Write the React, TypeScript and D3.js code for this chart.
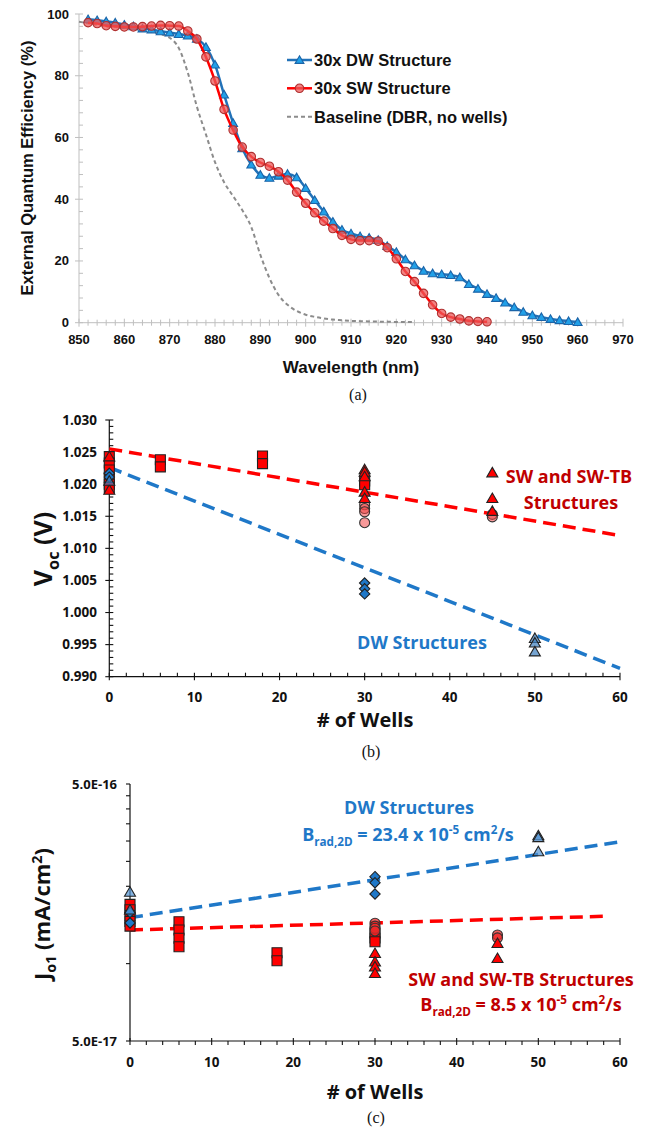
import React, { useEffect, useRef } from 'react';
import * as d3 from 'd3';

const W = 654;
const H = 1129;

// ---- (a) EQE spectra ----
const dwWavelength = [852, 854, 856, 858, 860, 862, 864, 866, 868, 870, 872, 874, 876, 878, 880, 882, 884, 886, 888, 890,
  892, 894, 896, 898, 900, 902, 904, 906, 908, 910, 912, 914, 916, 918, 920, 922, 924, 926, 928, 930,
  932, 934, 936, 938, 940, 942, 944, 946, 948, 950, 952, 954, 956, 958, 960];
const dwEqe = [98.3, 98.0, 97.6, 97.2, 96.5, 96.0, 95.3, 95.0, 94.4, 94.0, 93.5, 93.0, 92.0, 89.3, 83.6, 73.9, 64.7, 56.5, 51.2, 47.9,
  46.9, 47.6, 48.2, 47.1, 43.6, 39.7, 36.0, 32.7, 30.1, 28.9, 28.0, 27.5, 26.8, 24.8, 22.9, 20.5, 18.6, 16.8, 16.0, 15.7,
  15.4, 14.7, 12.5, 11.0, 9.3, 8.0, 6.5, 5.0, 3.5, 2.4, 1.8, 1.2, 0.8, 0.5, 0.2];
const swWavelength = [852, 854, 856, 858, 860, 862, 864, 866, 868, 870, 872, 874, 876, 878, 880, 882, 884, 886, 888, 890,
  892, 894, 896, 898, 900, 902, 904, 906, 908, 910, 912, 914, 916, 918, 920, 922, 924, 926, 928, 930,
  932, 934, 936, 938, 940];
const swEqe = [97.2, 96.9, 96.2, 96.0, 95.8, 95.8, 95.9, 96.1, 96.3, 96.2, 96.1, 94.5, 91.9, 86.1, 78.3, 69.1, 62.4, 56.9, 53.8, 51.9,
  50.7, 48.9, 46.2, 42.3, 38.7, 35.6, 32.9, 30.5, 28.3, 27.0, 26.6, 26.6, 26.4, 24.3, 20.7, 16.6, 13.3, 9.5, 5.8, 3.0,
  1.8, 1.2, 0.6, 0.4, 0.3];
const baseWavelength = [850, 852, 854, 856, 858, 860, 862, 864, 866, 868, 870, 872, 874, 876, 878, 880, 882, 884, 886, 888,
  890, 892, 894, 896, 898, 900, 902, 904, 906, 908, 910, 912, 914, 916, 918, 920, 922, 924];
const baseEqe = [97.5, 97.0, 96.5, 96.0, 95.8, 95.5, 95.2, 94.8, 94.2, 93.5, 92.3, 89.0, 81.0, 70.0, 61.0, 52.0, 45.5, 41.0, 36.5, 31.0,
  22.0, 14.5, 9.0, 5.8, 3.8, 2.6, 1.9, 1.4, 1.0, 0.8, 0.6, 0.5, 0.4, 0.35, 0.3, 0.25, 0.2, 0.2];
const legendLabels = ['30x DW Structure', '30x SW Structure', 'Baseline (DBR, no wells)'];
const eqeXTicks = [850, 860, 870, 880, 890, 900, 910, 920, 930, 940, 950, 960, 970];
const eqeYTicks = [0, 20, 40, 60, 80, 100];

// ---- (b) Voc vs wells ----
const vocSwSquares: [number, number][] = [[0, 1.0243], [0, 1.0233], [0, 1.0222], [0, 1.0210], [0, 1.0200], [0, 1.0195],
  [6, 1.0238], [6, 1.0227], [18, 1.0244], [18, 1.0232], [30, 1.0205], [30, 1.0199]];
const vocSwCircles: [number, number][] = [[30, 1.0168], [30, 1.0162], [30, 1.0157], [30, 1.0140], [45, 1.0153], [45, 1.0149]];
const vocSwTriangles: [number, number][] = [[0, 1.0243], [0, 1.0191], [30, 1.0223], [30, 1.0219], [30, 1.0212], [30, 1.0188],
  [30, 1.0178], [45, 1.0218], [45, 1.0178], [45, 1.0158]];
const vocDwDiamonds: [number, number][] = [[0, 1.0217], [0, 1.0211], [30, 1.0046], [30, 1.0037], [30, 1.0029]];
const vocDwTriangles: [number, number][] = [[0, 1.0205], [50, 0.9960], [50, 0.9953], [50, 0.9939]];
const vocSwFit: [number, number][] = [[0, 1.0255], [60, 1.0120]];
const vocDwFit: [number, number][] = [[0, 1.0226], [60, 0.9913]];
const vocYTicks = [0.990, 0.995, 1.000, 1.005, 1.010, 1.015, 1.020, 1.025, 1.030];
const wellTicks = [0, 10, 20, 30, 40, 50, 60];

// ---- (c) Jo1 vs wells ----
const jSwSquares: [number, number][] = [[0, 1.70e-16], [0, 1.62e-16], [0, 1.54e-16], [0, 1.46e-16], [0, 1.40e-16],
  [6, 1.456e-16], [6, 1.352e-16], [6, 1.255e-16], [6, 1.164e-16], [18, 1.103e-16], [18, 1.026e-16],
  [30, 1.315e-16], [30, 1.258e-16], [30, 1.217e-16]];
const jSwCircles: [number, number][] = [[30, 1.436e-16], [30, 1.40e-16], [30, 1.373e-16], [30, 1.34e-16], [45, 1.293e-16], [45, 1.26e-16]];
const jSwTriangles: [number, number][] = [[30, 1.097e-16], [30, 1.017e-16], [30, 9.73e-17], [30, 9.17e-17], [45, 1.2e-16], [45, 1.049e-16]];
const jDwDiamonds: [number, number][] = [[0, 1.58e-16], [0, 1.44e-16], [30, 2.18e-16], [30, 2.065e-16], [30, 1.866e-16]];
const jDwTriangles: [number, number][] = [[0, 1.90e-16], [0, 1.62e-16], [50, 3.15e-16], [50, 3.10e-16], [50, 2.73e-16]];
const jDwFit: [number, number][] = [[0, 1.51e-16], [60, 2.98e-16]];
const jSwFit: [number, number][] = [[0, 1.352e-16], [58.5, 1.53e-16]];
const jYTicks = [5e-17, 5e-16];
const jYMinor = [1e-16, 1.5e-16, 2e-16, 2.5e-16, 3e-16, 3.5e-16, 4e-16, 4.5e-16];

const RED = '#ff0000';
const DARKRED = '#c00000';
const BLUE = '#1f78c8';
const ARIAL = '"Liberation Sans", Arial, sans-serif';
const SANS = '"Open Sans", "Noto Sans", sans-serif';

type Part = { t: string; k?: 'sub' | 'sup' };

function richText(g: any, x: number, y: number, parts: Part[], size: number, color: string, anchor = 'middle', transform?: string) {
  const text = g.append('text')
    .attr('x', x).attr('y', y)
    .attr('text-anchor', anchor)
    .attr('font-family', SANS)
    .attr('font-weight', 'bold')
    .attr('font-size', size)
    .attr('fill', color);
  if (transform) text.attr('transform', transform);
  let shift = 0;
  parts.forEach(p => {
    const target = p.k === 'sub' ? size * 0.28 : p.k === 'sup' ? -size * 0.38 : 0;
    text.append('tspan')
      .attr('dy', target - shift)
      .attr('font-size', p.k ? size * 0.65 : size)
      .text(p.t);
    shift = target;
  });
}

function markerPath(shape: string, size: number): string {
  const s = size / 2;
  if (shape === 'square') return `M${-s},${-s}H${s}V${s}H${-s}Z`;
  if (shape === 'triangle') return `M0,${-s * 1.05}L${s * 1.1},${s * 0.85}L${-s * 1.1},${s * 0.85}Z`;
  if (shape === 'diamond') return `M0,${-s * 1.15}L${s * 1.15},0L0,${s * 1.15}L${-s * 1.15},0Z`;
  return `M${s},0A${s},${s} 0 1,1 ${-s},0A${s},${s} 0 1,1 ${s},0Z`;
}

function drawMarkers(g: any, data: [number, number][], x: any, y: any, shape: string, size: number, fill: string, stroke: string) {
  g.append('g').selectAll('path')
    .data(data)
    .enter()
    .append('path')
    .attr('d', markerPath(shape, size))
    .attr('transform', (d: [number, number]) => `translate(${x(d[0])},${y(d[1])})`)
    .attr('fill', fill)
    .attr('stroke', stroke)
    .attr('stroke-width', 1.1);
}

function drawFit(g: any, data: [number, number][], x: any, y: any, color: string) {
  const line = d3.line<[number, number]>().x(d => x(d[0])).y(d => y(d[1]));
  g.append('path')
    .attr('d', line(data))
    .attr('fill', 'none')
    .attr('stroke', color)
    .attr('stroke-width', 3.5)
    .attr('stroke-dasharray', '13,7');
}

function drawEqe(svg: any) {
  const x = d3.scaleLinear().domain([850, 970]).range([79, 623]);
  const y = d3.scaleLinear().domain([0, 100]).range([322.7, 14]);
  const g = svg.append('g');
  const axisColor = '#bfbfbf';

  g.append('line').attr('x1', x(850)).attr('x2', x(970)).attr('y1', y(0)).attr('y2', y(0)).attr('stroke', axisColor);
  g.append('line').attr('x1', x(850)).attr('x2', x(850)).attr('y1', y(0)).attr('y2', y(100)).attr('stroke', axisColor);

  d3.range(850, 971, 2).forEach(v => {
    const major = v % 10 === 0;
    g.append('line').attr('x1', x(v)).attr('x2', x(v))
      .attr('y1', y(0) - (major ? 4 : 3)).attr('y2', y(0) + (major ? 4 : 3))
      .attr('stroke', axisColor);
  });
  d3.range(0, 101, 4).forEach(v => {
    const major = v % 20 === 0;
    g.append('line').attr('y1', y(v)).attr('y2', y(v))
      .attr('x1', x(850) - (major ? 4 : 0)).attr('x2', x(850) + 4)
      .attr('stroke', axisColor);
  });

  g.selectAll('.xt').data(eqeXTicks).enter().append('text')
    .attr('x', (d: number) => x(d)).attr('y', 344)
    .attr('text-anchor', 'middle').attr('font-family', ARIAL).attr('font-weight', 'bold')
    .attr('font-size', 13).attr('fill', '#111').text((d: number) => d);
  g.selectAll('.yt').data(eqeYTicks).enter().append('text')
    .attr('x', 69).attr('y', (d: number) => y(d) + 4.5)
    .attr('text-anchor', 'end').attr('font-family', ARIAL).attr('font-weight', 'bold')
    .attr('font-size', 13).attr('fill', '#111').text((d: number) => d);

  g.append('text').attr('x', 351).attr('y', 373)
    .attr('text-anchor', 'middle').attr('font-family', ARIAL).attr('font-weight', 'bold')
    .attr('font-size', 17).attr('fill', '#111').text('Wavelength (nm)');
  g.append('text').attr('transform', 'translate(33,168) rotate(-90)')
    .attr('text-anchor', 'middle').attr('font-family', ARIAL).attr('font-weight', 'bold')
    .attr('font-size', 16.5).attr('fill', '#111').text('External Quantum Efficiency (%)');

  const smooth = d3.line<[number, number]>().x(d => x(d[0])).y(d => y(d[1])).curve(d3.curveMonotoneX);
  const basePts = baseWavelength.map((w, i) => [w, baseEqe[i]] as [number, number]);
  const swPts = swWavelength.map((w, i) => [w, swEqe[i]] as [number, number]);
  const dwPts = dwWavelength.map((w, i) => [w, dwEqe[i]] as [number, number]);

  g.append('path').attr('d', smooth(basePts)).attr('fill', 'none')
    .attr('stroke', '#8c8c8c').attr('stroke-width', 2).attr('stroke-dasharray', '4,3');

  g.append('path').attr('d', smooth(dwPts)).attr('fill', 'none')
    .attr('stroke', '#2272b8').attr('stroke-width', 2.5);
  drawMarkers(g, dwPts, x, y, 'triangle', 8, '#21a0e8', '#1b64a8');

  g.append('path').attr('d', smooth(swPts)).attr('fill', 'none')
    .attr('stroke', RED).attr('stroke-width', 2.5);
  drawMarkers(g, swPts, x, y, 'circle', 8.5, 'rgba(238,90,90,0.75)', '#b03030');

  // legend
  const rows = [60, 88.3, 116.7];
  const lg = svg.append('g');
  lg.append('line').attr('x1', 287).attr('x2', 312).attr('y1', rows[0]).attr('y2', rows[0]).attr('stroke', '#2272b8').attr('stroke-width', 2.5);
  lg.append('path').attr('d', markerPath('triangle', 8)).attr('transform', `translate(299.5,${rows[0]})`).attr('fill', '#21a0e8').attr('stroke', '#1b64a8').attr('stroke-width', 1.1);
  lg.append('line').attr('x1', 287).attr('x2', 312).attr('y1', rows[1]).attr('y2', rows[1]).attr('stroke', RED).attr('stroke-width', 2.5);
  lg.append('path').attr('d', markerPath('circle', 8.5)).attr('transform', `translate(299.5,${rows[1]})`).attr('fill', 'rgba(238,90,90,0.75)').attr('stroke', '#b03030').attr('stroke-width', 1.1);
  lg.append('line').attr('x1', 287).attr('x2', 312).attr('y1', rows[2]).attr('y2', rows[2]).attr('stroke', '#8c8c8c').attr('stroke-width', 2).attr('stroke-dasharray', '4,3');
  legendLabels.forEach((t, i) => {
    lg.append('text').attr('x', 314).attr('y', rows[i] + 6)
      .attr('font-family', ARIAL).attr('font-weight', 'bold').attr('font-size', 16.5).attr('fill', '#111').text(t);
  });

  svg.append('text').attr('x', 358).attr('y', 400).attr('text-anchor', 'middle')
    .attr('font-family', '"Liberation Serif", "Times New Roman", serif').attr('font-size', 16).attr('fill', '#111').text('(a)');
}

function drawVoc(svg: any) {
  const x = d3.scaleLinear().domain([0, 60]).range([109.3, 620]);
  const y = d3.scaleLinear().domain([0.990, 1.030]).range([676.7, 420]);
  const g = svg.append('g');

  g.append('line').attr('x1', x(0)).attr('x2', x(60)).attr('y1', y(0.99)).attr('y2', y(0.99)).attr('stroke', '#111').attr('stroke-width', 1.2);
  g.append('line').attr('x1', x(0)).attr('x2', x(0)).attr('y1', y(0.99)).attr('y2', y(1.03)).attr('stroke', '#111').attr('stroke-width', 1.2);
  d3.range(0, 61, 2).forEach(v => {
    const major = v % 10 === 0;
    g.append('line').attr('x1', x(v)).attr('x2', x(v))
      .attr('y1', y(0.99) - 4).attr('y2', y(0.99) + (major ? 3.5 : 0))
      .attr('stroke', '#111').attr('stroke-width', 1.1);
  });
  d3.range(0, 41).forEach(i => {
    const v = 0.990 + i * 0.001;
    const major = i % 5 === 0;
    g.append('line').attr('y1', y(v)).attr('y2', y(v))
      .attr('x1', x(0) - (major ? 4 : 0)).attr('x2', x(0) + 4)
      .attr('stroke', '#111').attr('stroke-width', 1.1);
  });

  g.selectAll('.xt').data(wellTicks).enter().append('text')
    .attr('x', (d: number) => x(d)).attr('y', 701.5)
    .attr('text-anchor', 'middle').attr('font-family', SANS).attr('font-weight', 'bold')
    .attr('font-size', 13.5).attr('fill', '#111').text((d: number) => d);
  g.selectAll('.yt').data(vocYTicks).enter().append('text')
    .attr('x', 97).attr('y', (d: number) => y(d) + 4.5)
    .attr('text-anchor', 'end').attr('font-family', SANS).attr('font-weight', 'bold')
    .attr('font-size', 13.5).attr('fill', '#111').text((d: number) => d3.format('.3f')(d));

  g.append('text').attr('x', 365).attr('y', 727)
    .attr('text-anchor', 'middle').attr('font-family', SANS).attr('font-weight', 'bold')
    .attr('font-size', 20).attr('fill', '#111').text('# of Wells');
  richText(g, 0, 0, [{ t: 'V' }, { t: 'oc', k: 'sub' }, { t: ' (V)' }], 25, '#111', 'middle', 'translate(52,549) rotate(-90)');

  drawFit(g, vocSwFit, x, y, RED);
  drawFit(g, vocDwFit, x, y, BLUE);

  drawMarkers(g, vocSwSquares, x, y, 'square', 10, RED, '#222');
  drawMarkers(g, vocSwCircles, x, y, 'circle', 10, 'rgba(240,70,70,0.55)', '#333');
  drawMarkers(g, vocSwTriangles, x, y, 'triangle', 10, RED, '#222');
  drawMarkers(g, vocDwDiamonds, x, y, 'diamond', 9, BLUE, '#222');
  drawMarkers(g, vocDwTriangles, x, y, 'triangle', 10, 'rgba(60,125,190,0.7)', '#222');

  richText(g, 569, 483, [{ t: 'SW and SW-TB' }], 18, DARKRED);
  richText(g, 571, 509, [{ t: 'Structures' }], 18, DARKRED);
  richText(g, 422, 649, [{ t: 'DW Structures' }], 18, BLUE);

  svg.append('text').attr('x', 371).attr('y', 757).attr('text-anchor', 'middle')
    .attr('font-family', '"Liberation Serif", "Times New Roman", serif').attr('font-size', 16).attr('fill', '#111').text('(b)');
}

function drawJo(svg: any) {
  const x = d3.scaleLinear().domain([0, 60]).range([130, 620]);
  const y = d3.scaleLog().domain([5e-17, 5e-16]).range([1041, 784]);
  const g = svg.append('g');

  g.append('line').attr('x1', x(0)).attr('x2', x(60)).attr('y1', y(5e-17)).attr('y2', y(5e-17)).attr('stroke', '#111').attr('stroke-width', 1.2);
  g.append('line').attr('x1', x(0)).attr('x2', x(0)).attr('y1', y(5e-17)).attr('y2', y(5e-16)).attr('stroke', '#111').attr('stroke-width', 1.2);
  d3.range(0, 61, 2).forEach(v => {
    const major = v % 10 === 0;
    g.append('line').attr('x1', x(v)).attr('x2', x(v))
      .attr('y1', y(5e-17) - (major ? 3 : 0)).attr('y2', y(5e-17) + 4)
      .attr('stroke', '#111').attr('stroke-width', 1.1);
  });
  jYTicks.concat(jYMinor).forEach(v => {
    g.append('line').attr('y1', y(v)).attr('y2', y(v))
      .attr('x1', x(0) - 4).attr('x2', x(0))
      .attr('stroke', '#111').attr('stroke-width', 1.1);
  });

  g.selectAll('.xt').data(wellTicks).enter().append('text')
    .attr('x', (d: number) => x(d)).attr('y', 1066.5)
    .attr('text-anchor', 'middle').attr('font-family', SANS).attr('font-weight', 'bold')
    .attr('font-size', 13.5).attr('fill', '#111').text((d: number) => d);
  g.selectAll('.yt').data(jYTicks).enter().append('text')
    .attr('x', 117).attr('y', (d: number) => y(d) + 4.5)
    .attr('text-anchor', 'end').attr('font-family', SANS).attr('font-weight', 'bold')
    .attr('font-size', 13).attr('fill', '#111')
    .text((d: number) => d3.format('.1e')(d).replace('e', 'E').toUpperCase());

  g.append('text').attr('x', 375).attr('y', 1099)
    .attr('text-anchor', 'middle').attr('font-family', SANS).attr('font-weight', 'bold')
    .attr('font-size', 20).attr('fill', '#111').text('# of Wells');
  richText(g, 0, 0, [{ t: 'J' }, { t: 'o1', k: 'sub' }, { t: ' (mA/cm' }, { t: '2', k: 'sup' }, { t: ')' }], 22, '#111', 'middle', 'translate(50,914) rotate(-90)');

  drawFit(g, jDwFit, x, y, BLUE);
  drawFit(g, jSwFit, x, y, RED);

  drawMarkers(g, jSwSquares, x, y, 'square', 10, RED, '#222');
  drawMarkers(g, jSwCircles, x, y, 'circle', 10, 'rgba(240,40,40,0.75)', '#333');
  drawMarkers(g, jSwTriangles, x, y, 'triangle', 10, RED, '#222');
  drawMarkers(g, jDwDiamonds, x, y, 'diamond', 9, BLUE, '#222');
  drawMarkers(g, jDwTriangles, x, y, 'triangle', 10, 'rgba(80,145,210,0.7)', '#222');

  richText(g, 409, 814, [{ t: 'DW Structures' }], 18, BLUE);
  richText(g, 408, 841, [{ t: 'B' }, { t: 'rad,2D', k: 'sub' }, { t: ' = 23.4 x 10' }, { t: '-5', k: 'sup' }, { t: ' cm' }, { t: '2', k: 'sup' }, { t: '/s' }], 18, BLUE);
  richText(g, 521, 986, [{ t: 'SW and SW-TB Structures' }], 18, DARKRED);
  richText(g, 521, 1011, [{ t: 'B' }, { t: 'rad,2D', k: 'sub' }, { t: ' = 8.5 x 10' }, { t: '-5', k: 'sup' }, { t: ' cm' }, { t: '2', k: 'sup' }, { t: '/s' }], 18, DARKRED);

  svg.append('text').attr('x', 376).attr('y', 1123).attr('text-anchor', 'middle')
    .attr('font-family', '"Liberation Serif", "Times New Roman", serif').attr('font-size', 16).attr('fill', '#111').text('(c)');
}

export default function App() {
  const ref = useRef<SVGSVGElement>(null);

  useEffect(() => {
    const svg = d3.select(ref.current);
    svg.selectAll('*').remove();
    drawEqe(svg);
    drawVoc(svg);
    drawJo(svg);
  }, []);

  return (
    <svg ref={ref} width={W} height={H}
      style={{ position: 'absolute', left: 0, top: 0, background: '#fff' }} />
  );
}
